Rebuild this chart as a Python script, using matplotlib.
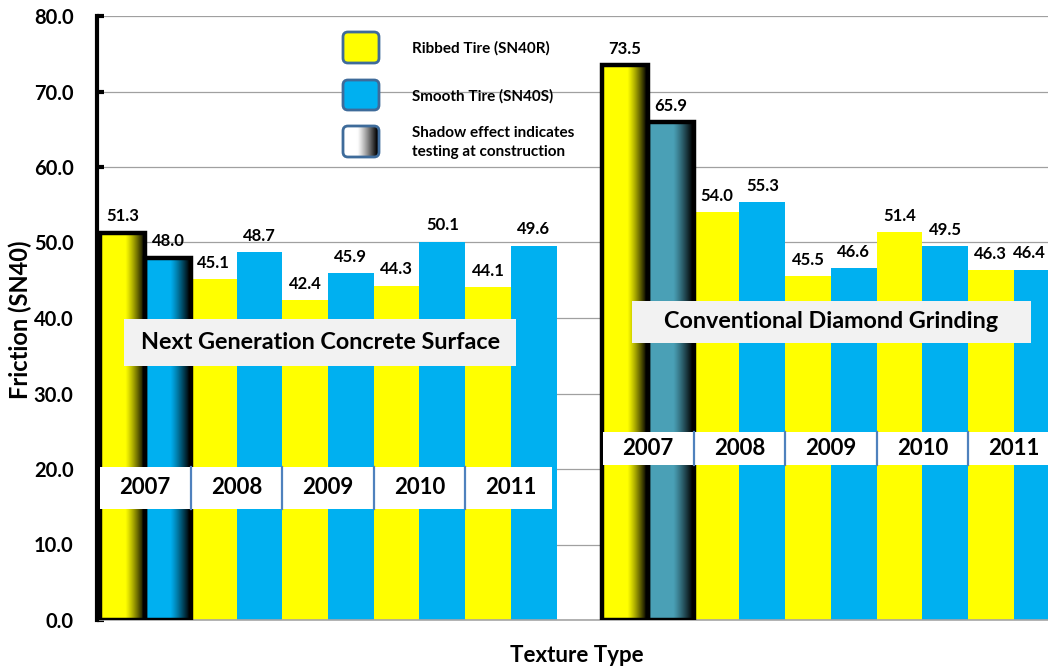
import matplotlib
matplotlib.use('Agg')
import matplotlib.pyplot as plt
import numpy as np
from matplotlib.patches import Rectangle, FancyBboxPatch

plt.rcParams['font.family'] = ['Lato', 'DejaVu Sans']
plt.rcParams['font.weight'] = 'bold'

# data
years = ['2007', '2008', '2009', '2010', '2011']
surfaces = ['Next Generation Concrete Surface', 'Conventional Diamond Grinding']
ngcs_ribbed = [51.3, 45.1, 42.4, 44.3, 44.1]
ngcs_smooth = [48.0, 48.7, 45.9, 50.1, 49.6]
cdg_ribbed = [73.5, 54.0, 45.5, 51.4, 46.3]
cdg_smooth = [65.9, 55.3, 46.6, 49.5, 46.4]
y_ticks = [0, 10, 20, 30, 40, 50, 60, 70, 80]
legend_labels = ['Ribbed Tire (SN40R)', 'Smooth Tire (SN40S)',
                 'Shadow effect indicates\ntesting at construction']

YELLOW = '#FFFF00'
BLUE = '#00B0F0'
TEAL = '#4AA0B6'
SEP = '#4F81BD'

W, H = 1048, 669
fig = plt.figure(figsize=(W / 100, H / 100), dpi=100)
ax = fig.add_axes([97 / W, 49 / H, 951 / W, 604 / H])


def shadow_img(start=0.55, end=0.97, light=False):
    t = np.linspace(0, 1, 300)
    a = np.clip((t - start) / (end - start), 0, 1) ** 1.2
    img = np.zeros((1, 300, 4))
    if light:
        img[..., :3] = (1 - a)[None, :, None]
        img[..., 3] = 1
    else:
        img[..., 3] = a
    return img


def draw_group(offset, ribbed, smooth, smooth_first_color, last=False):
    xr = offset + 2 * np.arange(len(years))
    xs = xr + 1
    ax.bar(xr, ribbed, width=1.0, color=YELLOW, zorder=2)
    colors = [smooth_first_color] + [BLUE] * (len(years) - 1)
    ax.bar(xs, smooth, width=1.0, color=colors, zorder=2)
    # 2007 bars: shadow + heavy outline
    for x, v in [(xr[0], ribbed[0]), (xs[0], smooth[0])]:
        ax.imshow(shadow_img(), extent=(x - 0.5, x + 0.5, 0, v), aspect='auto',
                  interpolation='bilinear', zorder=2.5)
        ax.bar(x, v, width=1.0, fill=False, edgecolor='black', linewidth=3.2, zorder=3)
    pts = list(zip(xr, ribbed)) + list(zip(xs, smooth))
    for i, (x, v) in enumerate(pts):
        dx = -5 if (last and i == len(pts) - 1) else 0
        ax.annotate(f'{v:.1f}', (x, v), xytext=(dx, 6), textcoords='offset points',
                    ha='center', va='bottom', fontsize=12, fontweight='bold', zorder=5)
    return xr + 0.5


# group 1 (NGCS) slots 0-9, group 2 (CDG) slots 11-20
c1 = draw_group(0, ngcs_ribbed, ngcs_smooth, BLUE)
c2 = draw_group(11, cdg_ribbed, cdg_smooth, TEAL, last=True)

# year strips
for centers, x0, x1, y0, y1 in [(c1, -0.48, 9.40, 14.7, 20.3), (c2, 10.52, 21.0, 20.5, 24.9)]:
    ax.add_patch(Rectangle((x0, y0), x1 - x0, y1 - y0, facecolor='white',
                           edgecolor='none', zorder=4))
    for c in centers[1:]:
        ax.plot([c - 1, c - 1], [y0, y1], color=SEP, lw=1.6, zorder=4.5)
    for c, yr in zip(centers, years):
        ax.text(c, (y0 + y1) / 2, yr, ha='center', va='center', fontsize=16,
                fontweight='bold', zorder=5)

# surface name boxes
for name, x0, x1, y0, y1 in [(surfaces[0], 0.03, 8.62, 33.6, 39.9),
                             (surfaces[1], 11.14, 19.87, 36.7, 42.25)]:
    ax.add_patch(Rectangle((x0, y0), x1 - x0, y1 - y0, facecolor='#F2F2F2',
                           edgecolor='none', zorder=4))
    ax.text((x0 + x1) / 2, (y0 + y1) / 2, name, ha='center', va='center',
            fontsize=16.8, fontweight='bold', zorder=5)

ax.set_xlim(-0.555, 20.25)
ax.set_ylim(0, 80)
ax.set_xticks([])
ax.set_yticks(y_ticks)
ax.set_yticklabels([f'{v:.1f}' for v in y_ticks])
ax.tick_params(axis='y', direction='in', length=5, width=3, pad=17, labelsize=14.5)
ax.yaxis.grid(True, color='#A0A0A0', lw=0.9)
ax.set_axisbelow(True)
for s in ['top', 'right']:
    ax.spines[s].set_visible(False)
ax.spines['left'].set_linewidth(3)
ax.spines['left'].set_zorder(6)
ax.spines['bottom'].set_color('#A6A6A6')
ax.spines['bottom'].set_linewidth(1.2)

fig.text(20 / W, 1 - 320 / H, 'Friction (SN40)', rotation=90, ha='center', va='center',
         fontsize=17, fontweight='bold')
fig.text(577 / W, 1 - 655 / H, 'Texture Type', ha='center', va='center',
         fontsize=16, fontweight='bold')

# legend built by hand (rounded squares)
sq = [(32, 63, YELLOW), (80, 110, BLUE), (126, 157, None)]
for (top, bot, col), lab in zip(sq, legend_labels):
    box = FancyBboxPatch((3.43, (H - bot) / 100), 0.36, (bot - top) / 100,
                         boxstyle='round,pad=0,rounding_size=0.05',
                         facecolor=col if col else 'none', edgecolor='#3E6B9A',
                         linewidth=2, transform=fig.dpi_scale_trans, zorder=2)
    fig.patches.append(box)
    if col is None:
        lax = fig.add_axes([343 / W, (H - bot) / H, 36 / W, (bot - top) / H], zorder=1)
        im = lax.imshow(shadow_img(0.4, 0.95, light=True), aspect='auto',
                        interpolation='bilinear')
        lax.axis('off')
        im.set_clip_path(box)
    fig.text(412 / W, 1 - ((top + bot) / 2 + 1) / H, lab, ha='left', va='center',
             fontsize=11, fontweight='bold', linespacing=1.4)

fig.savefig('out.png', dpi=100)
